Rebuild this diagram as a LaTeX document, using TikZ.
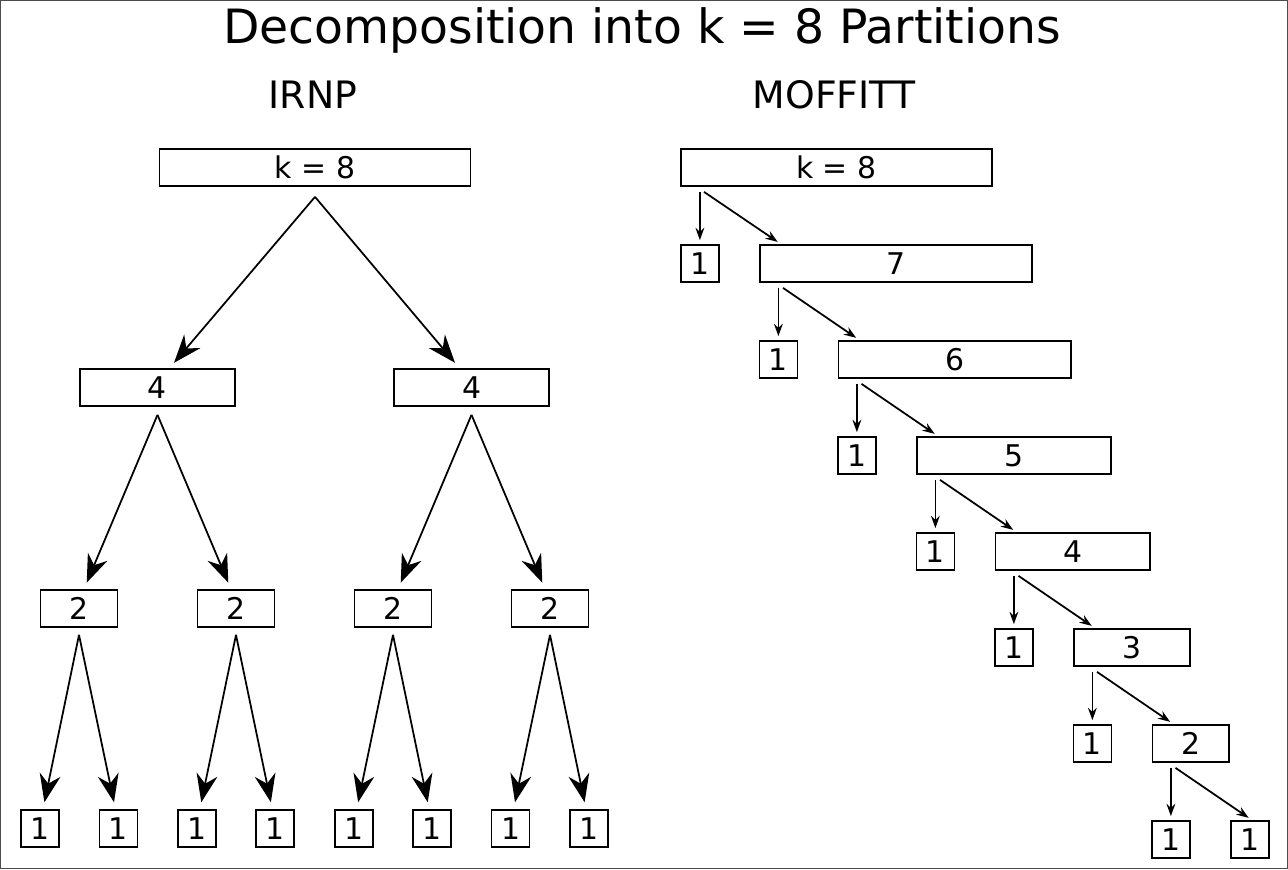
\documentclass[tikz,border=0pt]{standalone}
\usepackage{fontspec}
\setmainfont{DejaVu Sans}
\usetikzlibrary{arrows.meta}

\tikzset{
    part/.style = {draw, line width=1pt, minimum height=0.74cm, inner sep=0pt,
        minimum width={0.78cm*#1-0.02cm}, font=\fontsize{17}{17}\selectfont},
    bigarrow/.style = {line width=1pt, -{Stealth[length=16pt,width=12pt]},
        shorten >=0.14cm},
    smallarrow/.style = {line width=1pt, -{Stealth[length=7pt,width=5pt]},
        shorten >=0.08cm}
}

\begin{document}
\begin{tikzpicture}[x=0.02cm, y=-0.02cm]
        \useasboundingbox (0,0) rectangle (1288,869);
        \draw[black!70, line width=0.6pt] (0.5,0.5) rectangle (1287.5,868.5);

        \node[font=\fontsize{26.9}{26.9}\selectfont] (title) at (642,30) {Decomposition into k = 8 Partitions};
        \node[font=\fontsize{21.5}{21.5}\selectfont] (irnp) at (313,95) {IRNP};
        \node[font=\fontsize{21.5}{21.5}\selectfont] (moffitt) at (834,95) {MOFFITT};

        % IRNP: halving
        \node[part=8] (r) at (315,167.5) {k = 8};
        \foreach \i in {1,2}
            \node[part=4] (a\i) at ({157.5+314*(\i-1)},387.5) {4};
        \foreach \i in {1,...,4}
            \node[part=2] (b\i) at ({79+157*(\i-1)},608.5) {2};
        \foreach \i in {1,...,8}
            \node[part=1] (c\i) at ({40+78.43*(\i-1)},828.5) {1};

        \draw[bigarrow] ([yshift=-0.2cm]r.south) -- ([xshift=0.24cm]a1.north);
        \draw[bigarrow] ([yshift=-0.2cm]r.south) -- ([xshift=-0.24cm]a2.north);
        \foreach \i/\l/\r in {1/1/2, 2/3/4} {
            \draw[bigarrow] ([yshift=-0.16cm]a\i.south) -- ([xshift=0.1cm]b\l.north);
            \draw[bigarrow] ([yshift=-0.16cm]a\i.south) -- ([xshift=-0.1cm]b\r.north);
        }
        \foreach \i/\l/\r in {1/1/2, 2/3/4, 3/5/6, 4/7/8} {
            \draw[bigarrow] ([yshift=-0.14cm]b\i.south) -- ([xshift=0.06cm]c\l.north);
            \draw[bigarrow] ([yshift=-0.14cm]b\i.south) -- ([xshift=-0.06cm]c\r.north);
        }

        % MOFFITT: split off one at a time
        \node[part=8, anchor=west] (m0) at (680,167.5) {k = 8};
        \foreach \j [evaluate=\j as \k using int(8-\j)] in {1,...,7} {
            \node[part=\k, anchor=west] (m\j) at ({759+78.5*(\j-1)},{263.5+96*(\j-1)}) {\k};
            \node[part=1, anchor=west] (u\j) at ({680+78.5*(\j-1)},{263.5+96*(\j-1)}) {1};
        }
        \foreach \j [evaluate=\j as \p using int(\j-1)] in {1,...,7} {
            \draw[smallarrow, shorten <=0.1cm] (m\p.south west -| u\j.north) -- (u\j.north);
            \draw[smallarrow] ([xshift=0.48cm,yshift=-0.1cm]m\p.south west) -- ([xshift=0.44cm]m\j.north west);
        }
\end{tikzpicture}
\end{document}
